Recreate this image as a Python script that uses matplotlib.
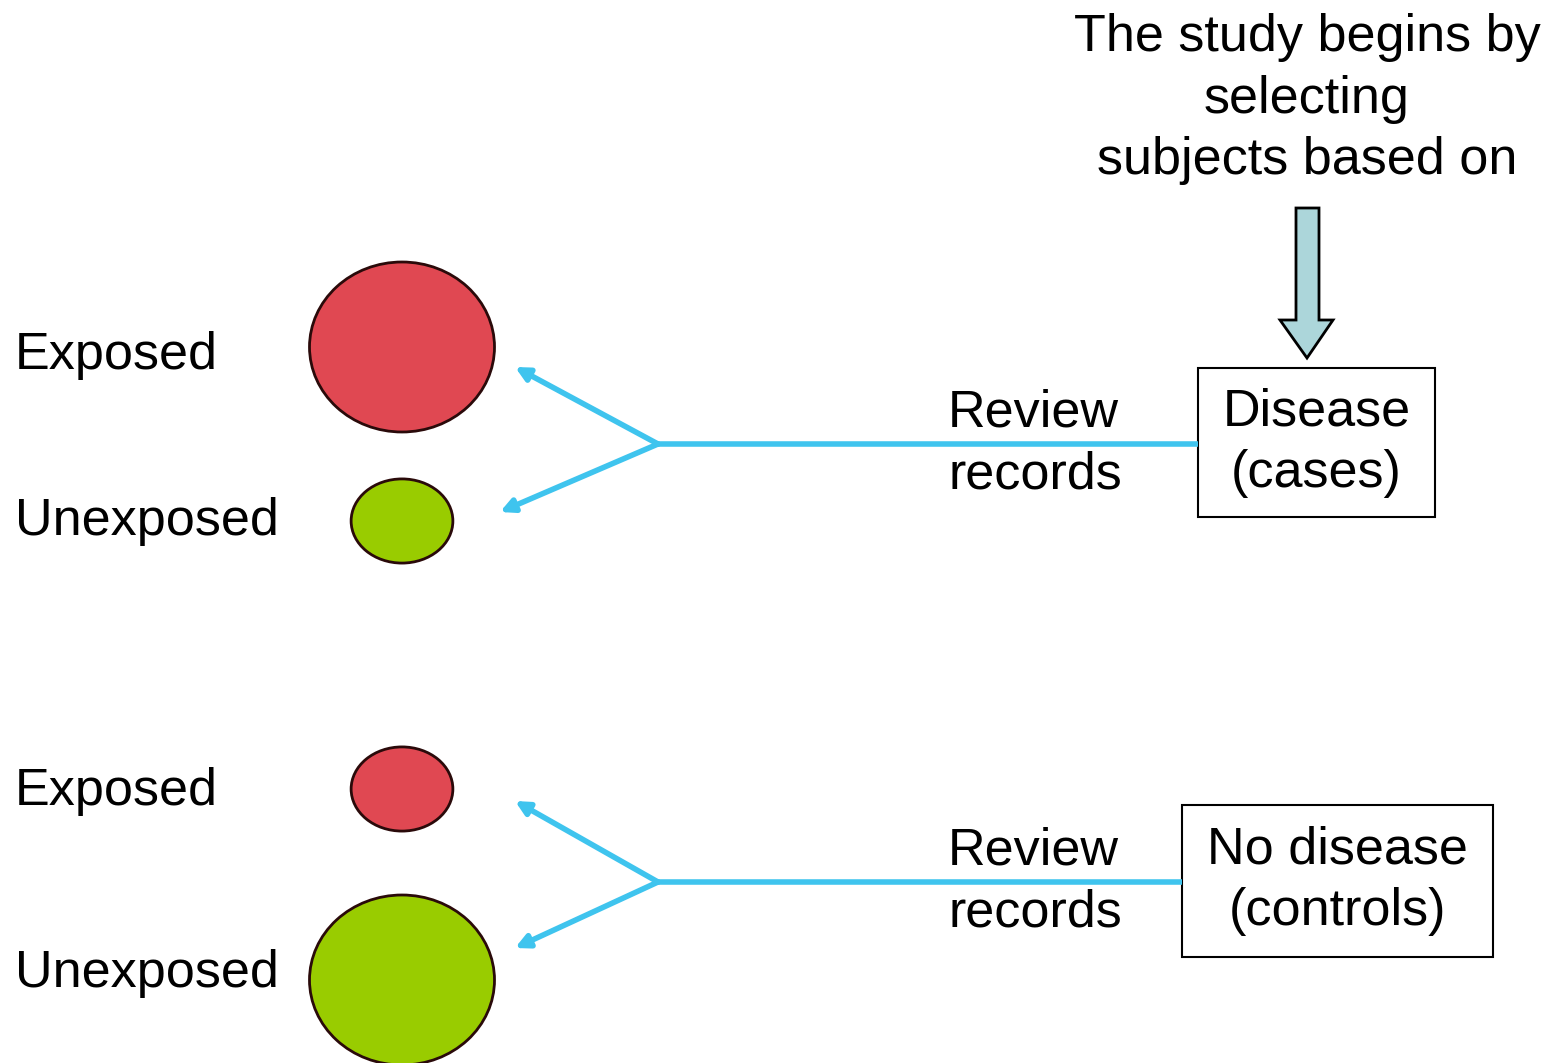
import matplotlib
matplotlib.use('Agg')
import matplotlib.pyplot as plt
from matplotlib.patches import Ellipse, Rectangle, Polygon

plt.rcParams['font.family'] = ['Liberation Sans', 'DejaVu Sans']

# groups (top = cases, bottom = controls)
group_labels = ['Disease\n(cases)', 'No disease\n(controls)']
exposure_labels = ['Exposed', 'Unexposed']
# relative circle size: exposed, unexposed
circle_size = [[1.0, 0.55], [0.55, 1.0]]
red = '#e04852'
green = '#99cc00'
blue = '#3fc4ee'

W, H = 1551, 1063
fig = plt.figure(figsize=(W / 100, H / 100), dpi=100)
ax = fig.add_axes([0, 0, 1, 1])
ax.set_xlim(0, W)
ax.set_ylim(H, 0)
ax.axis('off')

fs = 37.5
ls = 1.33

# header text + block arrow
ax.text(1307, 99, 'The study begins by\nselecting\nsubjects based on',
        ha='center', va='center', fontsize=fs, linespacing=ls)
ax.add_patch(Polygon([(1296, 208), (1319, 208), (1319, 320), (1333, 320),
                      (1307, 358), (1280, 320), (1296, 320)],
                     closed=True, facecolor='#acd6da', edgecolor='black', lw=2))

# layout per group
circle_y = [[347, 521], [789, 980]]
label_y = [355, 522, 792, 973]
branch_y = [444, 882]
box = [(1198, 368, 237, 149), (1182, 805, 311, 152)]
arrow_tips = [[(515, 367), (500, 512)], [(515, 801), (515, 948)]]

k = 0
for g in range(2):
    for e in range(2):
        s = circle_size[g][e]
        col = red if e == 0 else green
        ax.add_patch(Ellipse((402, circle_y[g][e]), 185 * s, 170 * s * (1 if s == 1 else 0.9),
                             facecolor=col, edgecolor='#2a0a0a', lw=2))
        ax.text(15, label_y[k], exposure_labels[e], ha='left', va='center', fontsize=fs)
        k += 1

    bx, by, bw, bh = box[g]
    y0 = branch_y[g]
    ax.plot([658, bx], [y0, y0], color=blue, lw=4, solid_capstyle='butt')
    for (tx, ty) in arrow_tips[g]:
        ax.annotate('', xy=(tx, ty), xytext=(658, y0),
                    arrowprops=dict(arrowstyle='-|>,head_length=0.8,head_width=0.4',
                                    color=blue, lw=4, shrinkA=0, shrinkB=0))
    ax.add_patch(Rectangle((bx, by), bw, bh, facecolor='white', edgecolor='black', lw=1.5))
    ax.text(bx + bw / 2, by + bh / 2, group_labels[g], ha='center', va='center',
            fontsize=fs, linespacing=ls)
    ax.text(948, y0, 'Review\nrecords', ha='left', va='center', fontsize=fs,
            linespacing=ls)

fig.savefig('out.png', dpi=100, facecolor='white')
